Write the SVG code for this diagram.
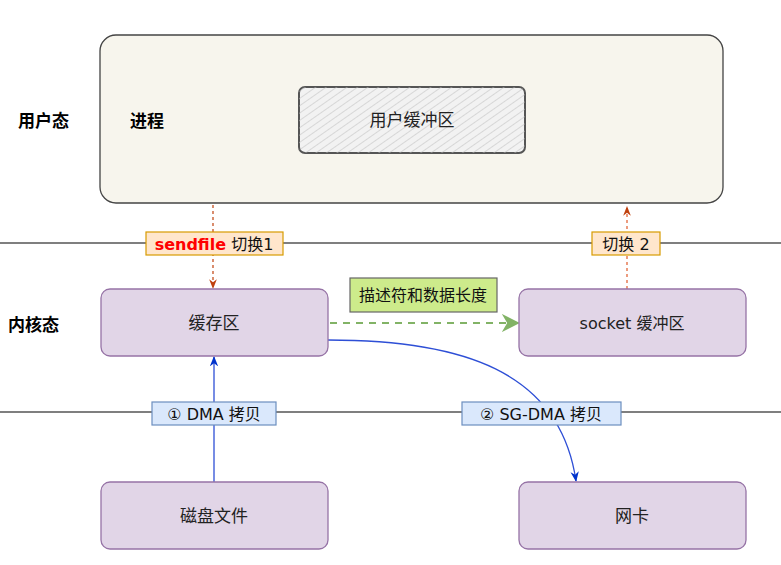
<svg xmlns="http://www.w3.org/2000/svg" width="781" height="565" viewBox="0 0 781 565">
<style>
text{font-family:"Liberation Sans","Noto Sans CJK SC",sans-serif;fill:#222;}
.node{fill:#e1d5e7;stroke:#9673a6;stroke-width:1.3;}
.nt{font-size:17px;text-anchor:middle;dominant-baseline:central;}
.lat{font-family:"DejaVu Sans","Noto Sans CJK SC",sans-serif;font-size:16px;}
.side{font-size:17px;font-weight:bold;dominant-baseline:central;fill:#000;}
.lane{stroke:#555;stroke-width:1.5;}
.orange{fill:#ffe6cc;stroke:#d79b00;stroke-width:1.2;}
.blue{fill:#dae8fc;stroke:#6c8ebf;stroke-width:1.2;}
.lbl{font-family:"DejaVu Sans","Noto Sans CJK SC",sans-serif;font-size:16px;dominant-baseline:central;text-anchor:middle;fill:#111;}
</style>
<defs>
<pattern id="hatch" width="6" height="6" patternUnits="userSpaceOnUse" patternTransform="rotate(55)">
<line x1="0" y1="0" x2="0" y2="6" stroke="#bbb" stroke-width="1"/>
</pattern>
<marker id="ar" viewBox="0 0 10 10" refX="9" refY="5" markerWidth="8" markerHeight="8" orient="auto"><path d="M0,1 L10,5 L0,9 L3,5 z" fill="#c0410e"/></marker>
<marker id="ag" viewBox="0 0 10 10" refX="9" refY="5" markerWidth="9" markerHeight="9" orient="auto"><path d="M0,0 L10,5 L0,10 L3,5 z" fill="#82b366"/></marker>
<marker id="ab" viewBox="0 0 10 10" refX="9" refY="5" markerWidth="8" markerHeight="8" orient="auto"><path d="M0,1 L10,5 L0,9 L3,5 z" fill="#0033cc"/></marker>
</defs>

<g id="lanes">
<line class="lane" x1="0" y1="243" x2="781" y2="243"/>
<line class="lane" x1="0" y1="412" x2="781" y2="412"/>
</g>

<g id="process">
<rect x="100" y="35" width="623" height="168" rx="16" fill="#f7f5ed" stroke="#444" stroke-width="1.3"/>
<text class="side" x="130" y="121">进程</text>
</g>
<g id="user-buffer">
<rect x="299" y="87" width="226" height="66" rx="6" fill="#f2f2f2" stroke="#555" stroke-width="2"/>
<rect x="299" y="87" width="226" height="66" rx="6" fill="url(#hatch)"/>
<text class="nt" x="412" y="120" fill="#444">用户缓冲区</text>
</g>

<g id="labels-side">
<text class="side" x="18" y="121">用户态</text>
<text class="side" x="8" y="325">内核态</text>
</g>

<g id="connectors">
<line x1="213" y1="205" x2="213" y2="288" stroke="#c0410e" stroke-width="1.2" stroke-dasharray="3,3" marker-end="url(#ar)"/>
<line x1="627" y1="289" x2="627" y2="207" stroke="#e05a2a" stroke-width="1.2" stroke-dasharray="3,3" marker-end="url(#ar)"/>
<line x1="330" y1="323" x2="518" y2="323" stroke="#82b366" stroke-width="2" stroke-dasharray="7,6" marker-end="url(#ag)"/>
<line x1="214" y1="482" x2="214" y2="357" stroke="#2e4fd6" stroke-width="1.3" marker-end="url(#ab)"/>
<path d="M328,340 C460,340 560,370 576,481" fill="none" stroke="#2e4fd6" stroke-width="1.3" marker-end="url(#ab)"/>
</g>

<g id="label-sendfile">
<rect class="orange" x="146" y="232" width="137" height="23"/>
<text class="lbl" x="214" y="244"><tspan fill="#ff0000" font-weight="bold">sendfile</tspan> 切换1</text>
</g>
<g id="label-switch2">
<rect class="orange" x="592" y="232" width="68" height="23"/>
<text class="lbl" x="626" y="244">切换 2</text>
</g>
<g id="label-desc">
<rect x="350" y="278" width="147" height="34" fill="#cdeb8b" stroke="#666" stroke-width="1.2"/>
<text class="lbl" x="423" y="295" font-size="15" fill="#333">描述符和数据长度</text>
</g>
<g id="label-dma">
<rect class="blue" x="152" y="402" width="124" height="23"/>
<text class="lbl" x="214" y="414">① DMA 拷贝</text>
</g>
<g id="label-sgdma">
<rect class="blue" x="462" y="402" width="159" height="23"/>
<text class="lbl" x="541" y="414">② SG-DMA 拷贝</text>
</g>

<g id="cache">
<rect class="node" x="101" y="289" width="227" height="67" rx="9"/>
<text class="nt" x="214" y="323">缓存区</text>
</g>
<g id="socket-buffer">
<rect class="node" x="519" y="289" width="227" height="67" rx="9"/>
<text class="nt lat" x="632" y="323">socket 缓冲区</text>
</g>
<g id="disk">
<rect class="node" x="101" y="482" width="227" height="67" rx="9"/>
<text class="nt" x="214" y="516">磁盘文件</text>
</g>
<g id="nic">
<rect class="node" x="519" y="482" width="227" height="67" rx="9"/>
<text class="nt" x="632" y="516">网卡</text>
</g>
</svg>
